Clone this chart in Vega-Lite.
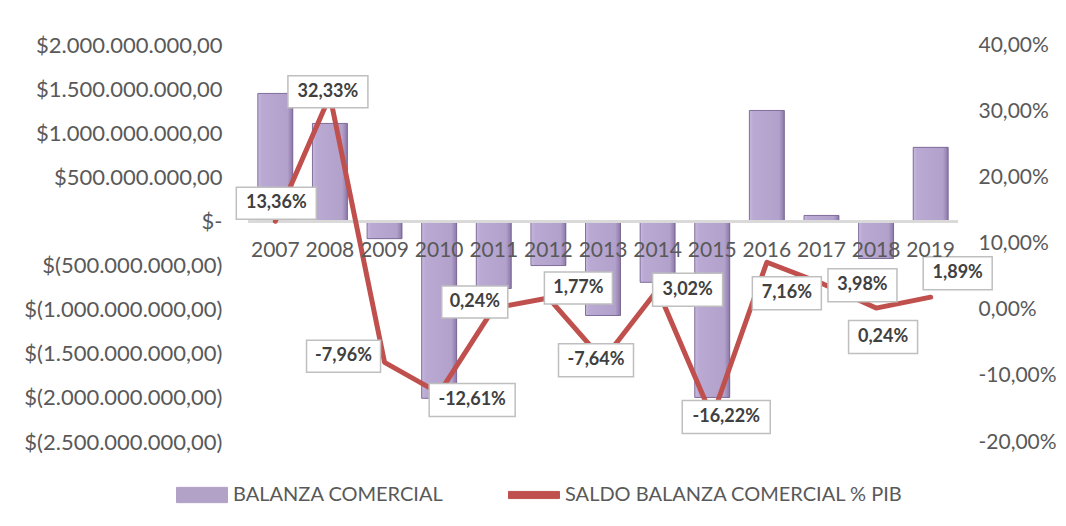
{
  "$schema": "https://vega.github.io/schema/vega-lite/v6.json",
  "autosize": {"type": "none"},
  "width": 710,
  "height": 397,
  "padding": {"left": 248, "top": 45, "right": 108, "bottom": 84},
  "background": "white",
  "data": {"values": [
    {"year": "2007", "balanza": 1451000000, "pct": 13.36},
    {"year": "2008", "balanza": 1111000000, "pct": 32.33},
    {"year": "2009", "balanza": -195000000, "pct": -7.96},
    {"year": "2010", "balanza": -2005000000, "pct": -12.61},
    {"year": "2011", "balanza": -760000000, "pct": 0.24},
    {"year": "2012", "balanza": -500000000, "pct": 1.77},
    {"year": "2013", "balanza": -1066000000, "pct": -7.64},
    {"year": "2014", "balanza": -690000000, "pct": 3.02},
    {"year": "2015", "balanza": -1995000000, "pct": -16.22},
    {"year": "2016", "balanza": 1258000000, "pct": 7.16},
    {"year": "2017", "balanza": 68000000, "pct": 3.98},
    {"year": "2018", "balanza": -420000000, "pct": 0.24},
    {"year": "2019", "balanza": 840000000, "pct": 1.89}
  ]},
  "transform": [
    {"calculate": "(datum.pct < 0 ? '-' : '') + replace(format(abs(datum.pct), '.2f'), '.', ',') + '%'", "as": "label"}
  ],
  "encoding": {
    "x": {
      "field": "year", "type": "ordinal", "sort": null,
      "scale": {"paddingInner": 0.36, "paddingOuter": 0.18},
      "axis": {
        "orient": "bottom", "offset": -221, "domain": false, "ticks": false, "tickSize": 0,
        "labelPadding": 18, "labelAngle": 0, "labelFont": "Lato", "labelFontSize": 21,
        "labelColor": "#595959", "title": null, "zindex": 1, "grid": false, "labelLimit": 0
      }
    }
  },
  "layer": [
    {
      "encoding": {
        "y": {
          "field": "balanza", "type": "quantitative",
          "scale": {"domain": [-2500000000, 2000000000], "nice": false, "zero": false},
          "axis": {
            "orient": "left", "title": null, "grid": false, "domain": false, "ticks": false,
            "values": [-2500000000, -2000000000, -1500000000, -1000000000, -500000000, 0, 500000000, 1000000000, 1500000000, 2000000000],
            "labelExpr": "datum.value == 0 ? '$-' : (datum.value < 0 ? '$(' : '$') + replace(replace(replace(format(abs(datum.value), ',.2f'), regexp(',', 'g'), '#'), '.', ','), regexp('#', 'g'), '.') + (datum.value < 0 ? ')' : '')",
            "labelPadding": 26, "labelFont": "Lato", "labelFontSize": 22, "labelColor": "#595959", "labelLimit": 0
          }
        }
      },
      "layer": [
        {
          "mark": {"type": "bar"},
          "encoding": {
            "color": {
              "datum": "BALANZA COMERCIAL",
              "scale": {"domain": ["BALANZA COMERCIAL", "SALDO BALANZA COMERCIAL % PIB"], "range": ["#B3A2C7", "#C0504D"]},
              "legend": {
                "orient": "none", "legendX": -72, "legendY": 424, "direction": "horizontal",
                "columns": 2, "columnPadding": 62, "symbolSize": 2601, "labelFontSize": 20,
                "labelColor": "#595959", "labelFont": "Lato", "labelOffset": 5, "title": null, "labelLimit": 0,
                "encode": {"symbols": {"update": {
                  "shape": {"signal": "datum.value == 'BALANZA COMERCIAL' ? 'M-1,-0.3H1V0.3H-1Z' : 'M-1,-0.14H1V0.14H-1Z'"},
                  "fill": {"signal": "datum.value == 'BALANZA COMERCIAL' ? '#B3A2C7' : '#C0504D'"},
                  "stroke": {"signal": "datum.value == 'BALANZA COMERCIAL' ? '#7F6A9A' : '#C0504D'"},
                  "strokeWidth": {"value": 1},
                  "opacity": {"value": 1}
                }}}
              }
            }
          }
        },
        {
          "mark": {
            "type": "bar",
            "fill": {"gradient": "linear", "x1": 0, "x2": 1, "y1": 0, "y2": 0,
              "stops": [
                {"offset": 0, "color": "#C7B9DE"},
                {"offset": 0.12, "color": "#B9A9D3"},
                {"offset": 0.85, "color": "#B2A1CB"},
                {"offset": 1, "color": "#8C78A8"}
              ]},
            "stroke": "#6E5A8A", "strokeWidth": 0.8
          }
        },
        {
          "mark": {"type": "rule", "color": "#D9D9D9", "strokeWidth": 2},
          "encoding": {"y": {"datum": 0}, "x": {"value": 0}, "x2": {"value": 710}}
        }
      ]
    },
    {
      "encoding": {
        "y": {
          "field": "pct", "type": "quantitative",
          "scale": {"domain": [-20, 40], "nice": false, "zero": false},
          "axis": {
            "orient": "right", "title": null, "grid": false, "domain": false, "ticks": false,
            "values": [-20, -10, 0, 10, 20, 30, 40],
            "labelExpr": "(datum.value < 0 ? '-' : '') + replace(format(abs(datum.value), '.2f'), '.', ',') + '%'",
            "labelPadding": 20, "labelFont": "Lato", "labelFontSize": 21, "labelColor": "#595959", "labelLimit": 0
          }
        }
      },
      "layer": [
        {
          "mark": {"type": "line", "strokeWidth": 5, "strokeJoin": "round", "strokeCap": "round"},
          "encoding": {"color": {"datum": "SALDO BALANZA COMERCIAL % PIB"}}
        },
        {"transform": [{"filter": "datum.year == '2007'"}], "layer": [
          {"mark": {"type": "point", "shape": "M-3.9,-3.4H4.1V-0.2H-3.9Z"}},
          {"mark": {"type": "text", "dx": 1, "dy": -18}, "encoding": {"text": {"field": "label"}}}]},
        {"transform": [{"filter": "datum.year == '2008'"}], "layer": [
          {"mark": {"type": "point", "shape": "M-4.2,-2H3.8V1.2H-4.2Z"}},
          {"mark": {"type": "text", "dx": -2, "dy": -4}, "encoding": {"text": {"field": "label"}}}]},
        {"transform": [{"filter": "datum.year == '2009'"}], "layer": [
          {"mark": {"type": "point", "shape": "M-7.8,-2.2H-0.4V1H-7.8Z"}},
          {"mark": {"type": "text", "dx": -41, "dy": -6}, "encoding": {"text": {"field": "label"}}}]},
        {"transform": [{"filter": "datum.year == '2010'"}], "layer": [
          {"mark": {"type": "point", "shape": "M-1,-0.95H7.6V2.35H-1Z"}},
          {"mark": {"type": "text", "dx": 33, "dy": 7}, "encoding": {"text": {"field": "label"}}}]},
        {"transform": [{"filter": "datum.year == '2011'"}], "layer": [
          {"mark": {"type": "point", "shape": "M-5.2,-2.2H1.4V1H-5.2Z"}},
          {"mark": {"type": "text", "dx": -19, "dy": -6}, "encoding": {"text": {"field": "label"}}}]},
        {"transform": [{"filter": "datum.year == '2012'"}], "layer": [
          {"mark": {"type": "point", "shape": "M-0.4,-2.6H6.4V0.6H-0.4Z"}},
          {"mark": {"type": "text", "dx": 30, "dy": -10}, "encoding": {"text": {"field": "label"}}}]},
        {"transform": [{"filter": "datum.year == '2013'"}], "layer": [
          {"mark": {"type": "point", "shape": "M-4.45,-1.65H3.05V1.65H-4.45Z"}},
          {"mark": {"type": "text", "dx": -7, "dy": 0}, "encoding": {"text": {"field": "label"}}}]},
        {"transform": [{"filter": "datum.year == '2014'"}], "layer": [
          {"mark": {"type": "point", "shape": "M-0.5,-1.65H6.5V1.65H-0.5Z"}},
          {"mark": {"type": "text", "dx": 30, "dy": 0}, "encoding": {"text": {"field": "label"}}}]},
        {"transform": [{"filter": "datum.year == '2015'"}], "layer": [
          {"mark": {"type": "point", "shape": "M-3,-1.65H5.8V1.65H-3Z"}},
          {"mark": {"type": "text", "dx": 14, "dy": 0}, "encoding": {"text": {"field": "label"}}}]},
        {"transform": [{"filter": "datum.year == '2016'"}], "layer": [
          {"mark": {"type": "point", "shape": "M-1.45,1.45H5.45V4.75H-1.45Z"}},
          {"mark": {"type": "text", "dx": 20, "dy": 31}, "encoding": {"text": {"field": "label"}}}]},
        {"transform": [{"filter": "datum.year == '2017'"}], "layer": [
          {"mark": {"type": "point", "shape": "M0.65,-1.45H7.55V1.85H0.65Z"}},
          {"mark": {"type": "text", "dx": 41, "dy": 2}, "encoding": {"text": {"field": "label"}}}]},
        {"transform": [{"filter": "datum.year == '2018'"}], "layer": [
          {"mark": {"type": "point", "shape": "M-2.75,1.25H4.15V4.55H-2.75Z"}},
          {"mark": {"type": "text", "dx": 7, "dy": 29}, "encoding": {"text": {"field": "label"}}}]},
        {"transform": [{"filter": "datum.year == '2019'"}], "layer": [
          {"mark": {"type": "point", "shape": "M-0.75,-4.05H6.15V-0.75H-0.75Z"}},
          {"mark": {"type": "text", "dx": 27, "dy": -24}, "encoding": {"text": {"field": "label"}}}]}
      ]
    }
  ],
  "resolve": {"scale": {"y": "independent"}},
  "config": {
    "view": {"stroke": null},
    "point": {"size": 400, "filled": true, "fill": "white", "stroke": "#BFBFBF", "strokeWidth": 1.5, "opacity": 1},
    "text": {"font": "Lato", "fontWeight": "bold", "fontSize": 18, "fill": "#404040", "align": "center", "baseline": "middle"}
  }
}
